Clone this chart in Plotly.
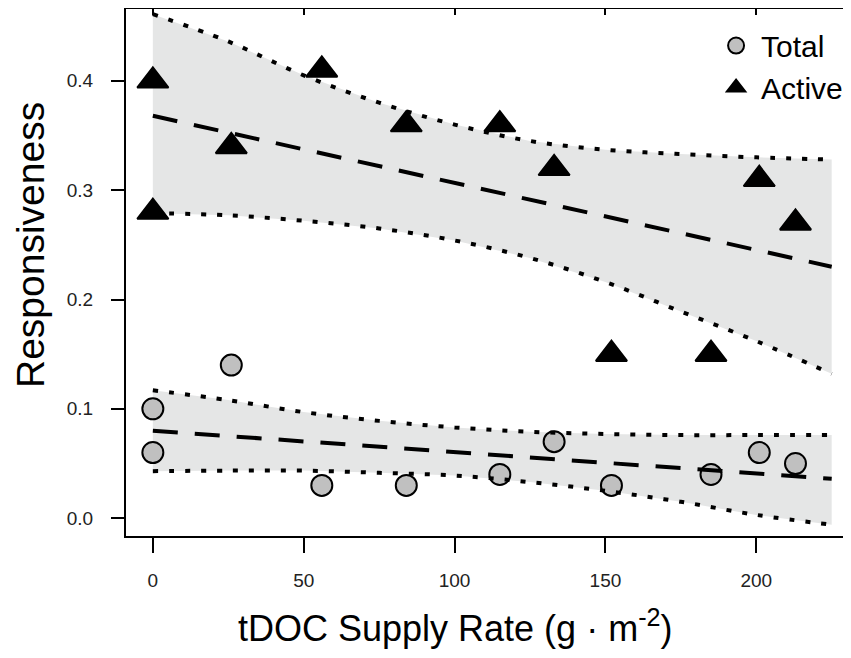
import plotly.graph_objects as go

# ---- data ----
supply_rate = [0, 0, 26, 56, 84, 115, 133, 152, 185, 201, 213]
total_resp = [0.10, 0.06, 0.14, 0.03, 0.03, 0.04, 0.07, 0.03, 0.04, 0.06, 0.05]
active_resp = [0.40, 0.28, 0.34, 0.41, 0.36, 0.36, 0.32, 0.15, 0.15, 0.31, 0.27]

fit_x = [0, 225]
total_fit = [0.080, 0.036]
active_fit = [0.368, 0.230]

band_x = [0, 25, 50, 75, 100, 125, 150, 175, 200, 225]
active_upper = [0.461, 0.436, 0.405, 0.380, 0.360, 0.345, 0.337, 0.333, 0.330, 0.328]
active_lower = [0.279, 0.277, 0.272, 0.265, 0.254, 0.238, 0.216, 0.189, 0.162, 0.132]
total_upper = [0.117, 0.108, 0.097, 0.089, 0.083, 0.079, 0.077, 0.076, 0.076, 0.076]
total_lower = [0.043, 0.0435, 0.0435, 0.0415, 0.039, 0.033, 0.025, 0.015, 0.003, -0.006]

x_ticks = [0, 50, 100, 150, 200]
y_ticks = [0.0, 0.1, 0.2, 0.3, 0.4]

BAND = "rgb(229,230,230)"
TICKFONT = dict(family="Liberation Sans, Arial", size=19, color="#222")

# page body has an 8px margin: figure occupies reference pixels 8..851 x 8..658
OFF = 8
W, H = 851 - OFF, 658 - OFF
L, T, B_AX = 126 - OFF, 9 - OFF, 536 - OFF
PW = W - L
PH = B_AX - T

fig = go.Figure()

for up, lo in [(active_upper, active_lower), (total_upper, total_lower)]:
    fig.add_trace(go.Scatter(x=band_x + band_x[::-1], y=up + lo[::-1], fill="toself",
                             fillcolor=BAND, line=dict(width=0), mode="lines",
                             showlegend=False, hoverinfo="skip"))

fig.add_trace(go.Scatter(x=supply_rate, y=total_resp, mode="markers", name="Total",
                         marker=dict(symbol="circle", size=21, color="#c0c0c0",
                                     line=dict(color="black", width=2))))
fig.add_trace(go.Scatter(x=supply_rate, y=active_resp, mode="markers", name="Active",
                         marker=dict(symbol="triangle-up", size=27, color="black",
                                     line=dict(color="black", width=2))))

for b in [active_upper, active_lower, total_upper, total_lower]:
    fig.add_trace(go.Scatter(x=band_x, y=b, mode="lines", line_shape="spline",
                             line=dict(color="black", width=4, dash="5px,11px"),
                             showlegend=False, hoverinfo="skip"))
for f in [active_fit, total_fit]:
    fig.add_trace(go.Scatter(x=fit_x, y=f, mode="lines",
                             line=dict(color="black", width=4, dash="25px,17px"),
                             showlegend=False, hoverinfo="skip"))

# empty trace to activate top axis
fig.add_trace(go.Scatter(x=[], y=[], xaxis="x2", showlegend=False))

xr = [-8.9, 231.4]
fig.update_layout(
    width=W, height=H,
    margin=dict(l=L, r=0, t=T, b=H - B_AX),
    paper_bgcolor="white", plot_bgcolor="white",
    font=dict(family="Liberation Sans, Arial", color="black"),
    xaxis=dict(range=xr, tickvals=x_ticks, ticks="outside", ticklen=15, tickwidth=2,
               tickcolor="black", showline=True, linewidth=2, linecolor="black",
               showgrid=False, zeroline=False, tickfont=TICKFONT, ticklabelstandoff=11),
    xaxis2=dict(range=xr, overlaying="x", side="top", tickvals=x_ticks, ticks="inside",
                ticklen=6, tickwidth=2, tickcolor="black", showline=True, linewidth=2,
                linecolor="black", showgrid=False, zeroline=False, showticklabels=False),
    yaxis=dict(range=[-0.0163, 0.4657], tickvals=y_ticks, tickformat=".1f",
               ticks="outside", ticklen=13, tickwidth=2, tickcolor="black",
               showline=True, linewidth=2, linecolor="black", showgrid=False,
               zeroline=False, tickfont=TICKFONT, ticklabelstandoff=14),
    legend=dict(x=0.807, xanchor="left", y=0.98, yanchor="top",
                font=dict(size=30, family="Liberation Sans, Arial", color="black"),
                bgcolor="rgba(0,0,0,0)", tracegroupgap=0, itemwidth=40),
    annotations=[
        dict(text="Responsiveness", xref="paper", yref="paper",
             x=(30 - 126) / PW, y=(536 - 245) / PH, textangle=-90,
             showarrow=False, xanchor="center", yanchor="middle",
             font=dict(size=39, family="Liberation Sans, Arial", color="black")),
        dict(text="tDOC Supply Rate (g · m<sup>-2</sup>)", xref="paper", yref="paper",
             x=(455 - 126) / PW, y=(536 - 626) / PH,
             showarrow=False, xanchor="center", yanchor="middle",
             font=dict(size=36, family="Liberation Sans, Arial", color="black")),
    ],
)

fig.write_html("out.html")
